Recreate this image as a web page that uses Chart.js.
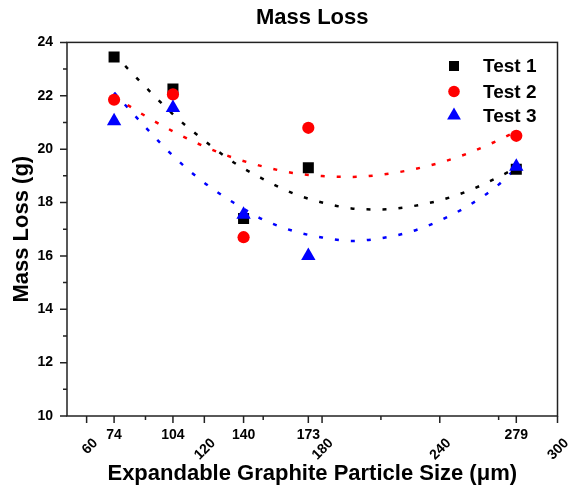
<!DOCTYPE html>
<html>
<head>
<meta charset="utf-8">
<script src="https://cdn.jsdelivr.net/npm/chart.js@4.4.0/dist/chart.umd.min.js"></script>
<style>
  html, body { margin: 0; padding: 0; background: #fff; }
  #wrap { width: 570px; height: 489px; position: relative; }
</style>
</head>
<body>
<div id="wrap"><canvas id="chart"></canvas></div>
<script>
const FONT = "'Liberation Sans', Arial, sans-serif";

// measured points
const SIZES = [74, 104, 140, 173, 279];
const TEST1 = [23.45, 22.25, 17.4, 19.3, 19.25];
const TEST2 = [21.85, 22.05, 16.7, 20.8, 20.5];
const TEST3 = [21.05, 21.55, 17.55, 16.0, 19.35];

// dotted fit curves
const FIT_X = [74, 90, 105, 120, 135, 150, 165, 180, 195, 210, 225, 240, 255, 270, 279];
const FIT1 = [23.55, 22.33, 21.24, 20.32, 19.5, 18.88, 18.35, 18.0, 17.78, 17.74, 17.85, 18.08, 18.45, 18.96, 19.3];
const FIT2 = [21.98, 21.24, 20.63, 20.1, 19.67, 19.35, 19.11, 18.99, 18.96, 19.04, 19.22, 19.49, 19.86, 20.34, 20.66];
const FIT3 = [22.12, 20.82, 19.68, 18.74, 17.99, 17.36, 16.94, 16.69, 16.56, 16.66, 16.9, 17.32, 17.9, 18.67, 19.3];

// axis ticks
const X_MAJOR = [60, 120, 180, 240, 300]; // rotated labels
const X_SIZE_TICKS = [74, 104, 140, 173, 279]; // flat labels
const X_MINOR = [90, 150, 210, 270];
const Y_MAJOR = [10, 12, 14, 16, 18, 20, 22, 24];
const Y_MINOR = [11, 13, 15, 17, 19, 21, 23];

const SERIES = [
  { label: "Test 1", color: "#000000", style: "rect" },
  { label: "Test 2", color: "#ff0000", style: "circle" },
  { label: "Test 3", color: "#0000ff", style: "triangle" },
];

function toPoints(xs, ys) {
  return xs.map((x, i) => ({ x: x, y: ys[i] }));
}

function fitDataset(ys, color, order) {
  return {
    label: "fit",
    data: toPoints(FIT_X, ys),
    showLine: true,
    borderColor: color,
    borderWidth: 2.5,
    borderDash: [4, 12],
    pointRadius: 0,
    fill: false,
    cubicInterpolationMode: "monotone",
    order: order,
  };
}

// frame, ticks, tick labels, axis titles and legend
const framePlugin = {
  id: "frame",
  afterDatasetsDraw(chart) {
    const ctx = chart.ctx;
    const area = chart.chartArea;
    const xs = chart.scales.x;
    const ys = chart.scales.y;
    ctx.save();
    ctx.strokeStyle = "#222";
    ctx.lineWidth = 1.5;
    ctx.strokeRect(area.left, area.top, area.right - area.left, area.bottom - area.top);

    ctx.beginPath();
    X_MAJOR.concat(X_SIZE_TICKS).forEach((v) => {
      const px = xs.getPixelForValue(v);
      ctx.moveTo(px, area.bottom);
      ctx.lineTo(px, area.bottom + 7);
    });
    X_MINOR.forEach((v) => {
      const px = xs.getPixelForValue(v);
      ctx.moveTo(px, area.bottom);
      ctx.lineTo(px, area.bottom + 4);
    });
    Y_MAJOR.forEach((v) => {
      const py = ys.getPixelForValue(v);
      ctx.moveTo(area.left - 7, py);
      ctx.lineTo(area.left, py);
    });
    Y_MINOR.forEach((v) => {
      const py = ys.getPixelForValue(v);
      ctx.moveTo(area.left - 4, py);
      ctx.lineTo(area.left, py);
    });
    ctx.stroke();

    ctx.fillStyle = "#000";
    ctx.font = "bold 14px " + FONT;
    ctx.textAlign = "right";
    ctx.textBaseline = "middle";
    Y_MAJOR.forEach((v) => {
      ctx.fillText(String(v), area.left - 14, ys.getPixelForValue(v));
    });

    ctx.textAlign = "center";
    X_SIZE_TICKS.forEach((v) => {
      ctx.fillText(String(v), xs.getPixelForValue(v), area.bottom + 19);
    });

    X_MAJOR.forEach((v) => {
      ctx.save();
      ctx.translate(xs.getPixelForValue(v) + 9, area.bottom + 25);
      ctx.rotate(-Math.PI / 4);
      ctx.textAlign = "right";
      ctx.fillText(String(v), 0, 0);
      ctx.restore();
    });

    ctx.font = "bold 22px " + FONT;
    ctx.textAlign = "center";
    ctx.fillText("Expandable Graphite Particle Size (\u03bcm)", (area.left + area.right) / 2, 474);

    ctx.save();
    ctx.translate(22, (area.top + area.bottom) / 2);
    ctx.rotate(-Math.PI / 2);
    ctx.fillText("Mass Loss (g)", 0, 0);
    ctx.restore();

    // legend
    const legendY = [66, 91.5, 115.5];
    ctx.font = "bold 19px " + FONT;
    ctx.textAlign = "left";
    SERIES.forEach((s, i) => {
      const y = legendY[i];
      const x = 454;
      ctx.fillStyle = s.color;
      ctx.beginPath();
      if (s.style === "rect") {
        ctx.rect(x - 5, y - 5, 10, 10);
      } else if (s.style === "circle") {
        ctx.arc(x, y, 5.8, 0, Math.PI * 2);
      } else {
        const r = 8;
        ctx.moveTo(x, y - r);
        ctx.lineTo(x + r * 0.866, y + r / 2);
        ctx.lineTo(x - r * 0.866, y + r / 2);
        ctx.closePath();
      }
      ctx.fill();
      ctx.fillStyle = "#000";
      ctx.fillText(s.label, 483, y + 1);
    });
    ctx.restore();
  },
};

const ctx = document.getElementById("chart").getContext("2d");
new Chart(ctx, {
  type: "scatter",
  data: {
    datasets: [
      {
        label: SERIES[0].label,
        data: toPoints(SIZES, TEST1),
        pointStyle: "rect",
        pointRadius: 7.8,
        pointBorderWidth: 0,
        backgroundColor: SERIES[0].color,
        borderColor: SERIES[0].color,
        order: 3,
      },
      {
        label: SERIES[1].label,
        data: toPoints(SIZES, TEST2),
        pointStyle: "circle",
        pointRadius: 6.1,
        pointBorderWidth: 0,
        backgroundColor: SERIES[1].color,
        borderColor: SERIES[1].color,
        order: 2,
      },
      {
        label: SERIES[2].label,
        data: toPoints(SIZES, TEST3),
        pointStyle: "triangle",
        pointRadius: 8.3,
        pointBorderWidth: 0,
        backgroundColor: SERIES[2].color,
        borderColor: SERIES[2].color,
        order: 1,
      },
      fitDataset(FIT1, "#000000", 6),
      fitDataset(FIT2, "#ff0000", 7),
      fitDataset(FIT3, "#0000ff", 8),
    ],
  },
  options: {
    responsive: true,
    maintainAspectRatio: false,
    animation: false,
    layout: {
      padding: { left: 67, right: 12.5, top: 0, bottom: 73 },
    },
    scales: {
      x: { type: "linear", min: 50, max: 300, display: false },
      y: { type: "linear", min: 10, max: 24, display: false },
    },
    plugins: {
      legend: { display: false },
      tooltip: { enabled: false },
      title: {
        display: true,
        text: "Mass Loss",
        color: "#000",
        font: { size: 22, weight: "bold", family: FONT },
        padding: { top: 5, bottom: 11 },
      },
    },
  },
  plugins: [framePlugin],
});
</script>
</body>
</html>
